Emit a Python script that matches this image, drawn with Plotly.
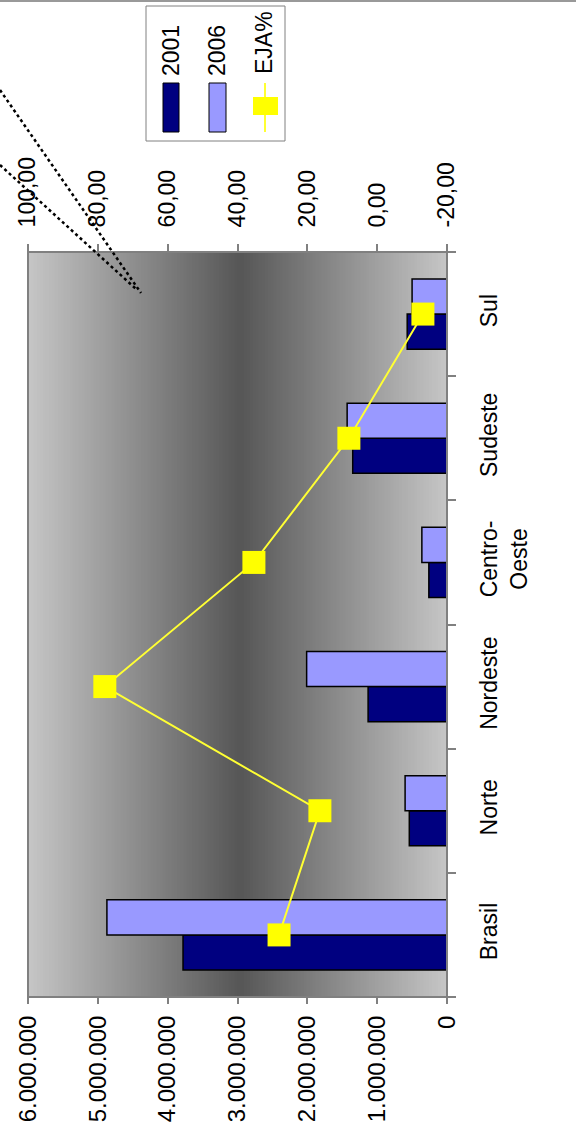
import plotly.graph_objects as go

# ---- data ----
categories = ["Brasil", "Norte", "Nordeste", "Centro-<br>Oeste", "Sudeste", "Sul"]
values_2001 = [3780000, 540000, 1130000, 260000, 1350000, 570000]
values_2006 = [4870000, 600000, 2010000, 360000, 1430000, 500000]
eja_pct = [28.1, 16.4, 78.0, 35.3, 8.1, -13.1]

bar_ticks = [0, 1000000, 2000000, 3000000, 4000000, 5000000, 6000000]
bar_ticktext = ["0", "1.000.000", "2.000.000", "3.000.000", "4.000.000", "5.000.000", "6.000.000"]
pct_ticks = [-20, 0, 20, 40, 60, 80, 100]
pct_ticktext = ["-20,00", "0,00", "20,00", "40,00", "60,00", "80,00", "100,00"]

# ---- layout geometry (pixels) ----
W, H = 576, 1125
L, R, T, B = 28, 447, 252, 997
PW, PH = R - L, B - T

def px(x):
    return (x - L) / PW

def py(y):
    return (B - y) / PH

FONT = "Liberation Sans, Arial, sans-serif"
GRAY = "#808080"

fig = go.Figure()
fig.add_trace(go.Bar(
    y=categories, x=values_2001, orientation="h", name="2001",
    marker=dict(color="#000080", line=dict(color="#000000", width=1.5)),
    xaxis="x", yaxis="y",
))
fig.add_trace(go.Bar(
    y=categories, x=values_2006, orientation="h", name="2006",
    marker=dict(color="#9999FF", line=dict(color="#000000", width=1.5)),
    xaxis="x", yaxis="y",
))
fig.add_trace(go.Scatter(
    y=categories, x=eja_pct, mode="lines+markers", name="EJA%",
    line=dict(color="#FFFF33", width=2),
    marker=dict(symbol="square", size=23, color="#FFFF00"),
    xaxis="x2", yaxis="y",
))

# gradient background
shapes = []
N = 140
light, dark = 198, 86
c = 240
for i in range(N):
    x0 = L + PW * i / N
    x1 = L + PW * (i + 1) / N
    xm = (x0 + x1) / 2
    if xm < c:
        u = (c - xm) / (c - L)
    else:
        u = (xm - c) / (R - c)
    u = min(max(u, 0), 1)
    g = int(round(dark + (light - dark) * u))
    col = f"rgb({g},{g},{g})"
    shapes.append(dict(type="rect", xref="paper", yref="paper",
                       x0=px(x0), x1=px(x1) + 0.002, y0=0, y1=1,
                       fillcolor=col, line=dict(width=0), layer="below"))

# plot border
shapes.append(dict(type="rect", xref="paper", yref="paper", x0=0, x1=1, y0=0, y1=1,
                   line=dict(color=GRAY, width=2), fillcolor="rgba(0,0,0,0)", layer="above"))

# top border of image
shapes.append(dict(type="line", xref="paper", yref="paper",
                   x0=px(0), x1=px(W), y0=py(1), y1=py(1),
                   line=dict(color="#999999", width=2)))

# dotted leader lines
shapes.append(dict(type="line", xref="paper", yref="paper",
                   x0=px(0), y0=py(90), x1=px(141), y1=py(293),
                   line=dict(color="#000000", width=2.5, dash="dot")))
shapes.append(dict(type="line", xref="paper", yref="paper",
                   x0=px(0), y0=py(165), x1=px(136), y1=py(289),
                   line=dict(color="#000000", width=2.5, dash="dot")))

# legend box
shapes.append(dict(type="rect", xref="paper", yref="paper",
                   x0=px(146), x1=px(285), y0=py(141), y1=py(6),
                   fillcolor="#FFFFFF", line=dict(color=GRAY, width=1)))
shapes.append(dict(type="rect", xref="paper", yref="paper",
                   x0=px(163), x1=px(179), y0=py(132), y1=py(83),
                   fillcolor="#000080", line=dict(color="#000000", width=1)))
shapes.append(dict(type="rect", xref="paper", yref="paper",
                   x0=px(209), x1=px(226), y0=py(132), y1=py(83),
                   fillcolor="#9999FF", line=dict(color="#000000", width=1)))
shapes.append(dict(type="line", xref="paper", yref="paper",
                   x0=px(265), x1=px(265), y0=py(132), y1=py(83),
                   line=dict(color="#FFFF33", width=2)))
shapes.append(dict(type="rect", xref="paper", yref="paper",
                   x0=px(253), x1=px(278), y0=py(115), y1=py(97),
                   fillcolor="#FFFF00", line=dict(width=0)))

annotations = []
for txt, xc, yc in [("2001", 171, 51), ("2006", 217, 51), ("EJA%", 264, 43)]:
    annotations.append(dict(text=txt, xref="paper", yref="paper", x=px(xc), y=py(yc),
                            showarrow=False, textangle=-90,
                            font=dict(family=FONT, size=23, color="#000000"),
                            xanchor="center", yanchor="middle"))

fig.update_layout(
    width=W, height=H,
    margin=dict(l=L, r=W - R, t=T, b=H - B, pad=0, autoexpand=False),
    paper_bgcolor="#FFFFFF",
    plot_bgcolor="#C0C0C0",
    barmode="group", bargap=0.435, bargroupgap=0,
    showlegend=False,
    shapes=shapes,
    annotations=annotations,
    font=dict(family=FONT, size=23, color="#000000"),
    xaxis=dict(
        range=[6000000, 0], tickvals=bar_ticks, ticktext=bar_ticktext,
        tickangle=-90, ticks="outside", ticklen=6, tickcolor=GRAY, tickwidth=1.5,
        showgrid=False, zeroline=False, showline=False, automargin=False,
        tickfont=dict(family=FONT, size=24), ticklabelstandoff=2,
    ),
    xaxis2=dict(
        overlaying="x", side="top", range=[100, -20],
        tickvals=pct_ticks, ticktext=pct_ticktext,
        tickangle=-90, ticks="outside", ticklen=7, tickcolor=GRAY, tickwidth=1.5,
        showgrid=False, zeroline=False, showline=False, automargin=False,
        tickfont=dict(family=FONT, size=23), ticklabelstandoff=12,
    ),
    yaxis=dict(
        side="right", categoryorder="array", categoryarray=categories,
        tickangle=-90, ticks="outside", ticklen=8, tickcolor=GRAY, tickwidth=1.5,
        showgrid=False, zeroline=False, showline=False, automargin=False,
        tickson="boundaries",
        tickfont=dict(family=FONT, size=23), ticklabelstandoff=26,
    ),
)

fig.write_html("out.html")
